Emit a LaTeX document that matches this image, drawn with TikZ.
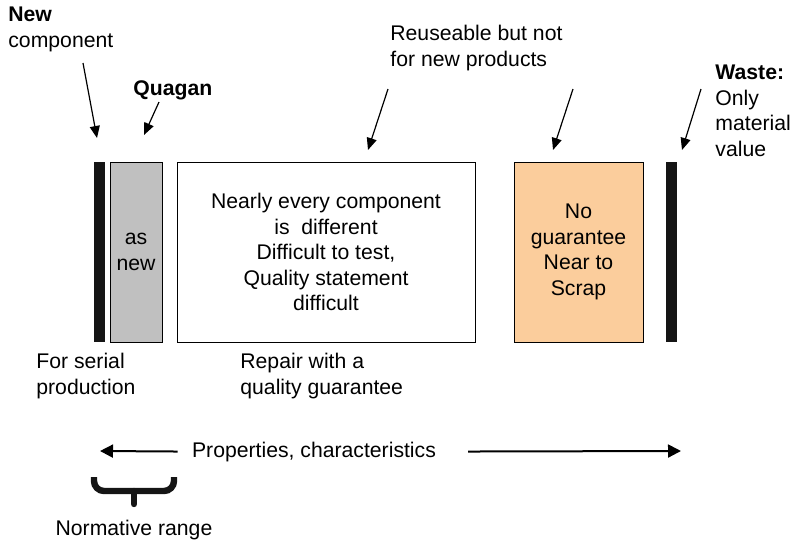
\documentclass[tikz,border=0pt]{standalone}
\usepackage{fontspec}
\setmainfont{Liberation Sans}
\usetikzlibrary{arrows.meta}
\definecolor{asnewgray}{HTML}{C0C0C0}
\definecolor{scraporange}{HTML}{FBCD9C}
\definecolor{barblack}{HTML}{151515}
\tikzset{
  txt/.style={font=\fontsize{10.6}{12.75}\selectfont, inner sep=0pt, align=left},
  box/.style={draw, line width=0.5pt, txt, align=center, minimum height=90pt},
  bar/.style={fill=barblack, inner sep=0pt, minimum width=5.5pt, minimum height=90pt},
  arr/.style={-{Triangle[length=6pt,width=5pt]}, line width=0.6pt},
  proparr/.style={-{Triangle[length=6.5pt,width=6.5pt]}, line width=1pt},
  bracket/.style={line width=3.2pt, color=barblack, rounded corners=5pt}
}
\begin{document}
\begin{tikzpicture}[x=0.5pt,y=-0.5pt]
  \useasboundingbox (0,0) rectangle (792,542);
  % the scale of states
  \node[bar] (newbar) at (99.5,252) {};
  \node[box, fill=asnewgray, minimum width=26pt] (asnew) at (136,252) {as\\new};
  \node[box, minimum width=149pt] (repair) at (326,252)
    {Nearly every component\\is\ \ different\\Difficult to test,\\Quality statement\\difficult};
  \node[box, fill=scraporange, minimum width=64.5pt] (scrap) at (578.5,252)
    {No\\guarantee\\Near to\\Scrap};
  \node[bar] (wastebar) at (671.5,252) {};
  % labels above
  \node[txt, anchor=north west] (newlbl) at (8,7) {\textbf{New}\\component};
  \node[txt, anchor=north west] (quaganlbl) at (133,80) {\textbf{Quagan}};
  \node[txt, anchor=north west] (reuselbl) at (390,25) {Reuseable but not\\for new products};
  \node[txt, anchor=north west] (wastelbl) at (715,65) {\textbf{Waste:}\\Only\\material\\value};
  % labels below
  \node[txt, anchor=north west] (seriallbl) at (36,353) {For serial\\production};
  \node[txt, anchor=north west] (repairlbl) at (240,353) {Repair with a\\quality guarantee};
  \node[txt, anchor=base, inner xsep=7pt] (props) at (314,457) {Properties, characteristics};
  \node[txt, anchor=north] (normlbl) at (134,520) {Normative range};
  % arrow ends
  \coordinate (newfrom) at (83,63);   \coordinate (newto) at (97,138);
  \coordinate (quagfrom) at (159,102); \coordinate (quagto) at (144,135);
  \coordinate (reusefrom) at (388,89); \coordinate (reuseto) at (368,150);
  \coordinate (scrapfrom) at (573,89); \coordinate (scrapto) at (553,150);
  \coordinate (wastefrom) at (701,89); \coordinate (wasteto) at (682,150);
  \coordinate (propL) at (100,451);    \coordinate (propR) at (681,451);
  \coordinate (normL) at (94,477);     \coordinate (normR) at (174,477);
  \coordinate (normM) at (134,491);    \coordinate (normTip) at (134,504);
  \begin{scope}[arr]
    \draw (newfrom) -- (newto);
    \draw (quagfrom) -- (quagto);
    \draw (reusefrom) -- (reuseto);
    \draw (scrapfrom) -- (scrapto);
    \draw (wastefrom) -- (wasteto);
  \end{scope}
  \draw[proparr] (props.west) -- (propL);
  \draw[proparr] (props.east -| 468,0) -- (propR);
  % normative range bracket
  \draw[bracket] (normL) |- (normM) -| (normR);
  \draw[bracket, line cap=round] (normM) -- (normTip);
\end{tikzpicture}
\end{document}
